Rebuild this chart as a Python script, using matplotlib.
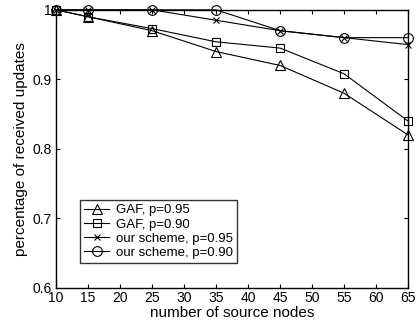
import matplotlib
matplotlib.use("Agg")
import matplotlib.pyplot as plt

plt.rcParams['font.family'] = ['Liberation Sans', 'DejaVu Sans']

# source node counts
nodes = [10, 15, 25, 35, 45, 55, 65]

# received-update ratios
gaf_95 = [1.0, 0.99, 0.970, 0.940, 0.920, 0.880, 0.820]
gaf_90 = [1.0, 0.99, 0.973, 0.954, 0.945, 0.908, 0.840]
ours_95 = [1.0, 1.0, 1.0, 0.985, 0.970, 0.960, 0.950]
ours_90 = [1.0, 1.0, 1.0, 1.0, 0.970, 0.960, 0.960]

labels = ['GAF, p=0.95', 'GAF, p=0.90', 'our scheme, p=0.95', 'our scheme, p=0.90']

fig = plt.figure(figsize=(4.19, 3.28), dpi=100)
ax = fig.add_axes([0.134, 0.122, 0.840, 0.848])

kw = dict(color='black', lw=0.8, mfc='none', mec='black', mew=0.8, clip_on=False, zorder=3)
ax.plot(nodes, gaf_95, marker='^', ms=7, label=labels[0], **kw)
ax.plot(nodes, gaf_90, marker='s', ms=5.5, label=labels[1], **kw)
ax.plot(nodes, ours_95, marker='x', ms=5, label=labels[2], **kw)
ax.plot(nodes, ours_90, marker='o', ms=7, label=labels[3], **kw)

ax.set_xlim(10, 65)
ax.set_ylim(0.6, 1.0)
ax.set_xticks(range(10, 70, 5))
ax.set_yticks([0.6, 0.7, 0.8, 0.9, 1.0])
ax.set_yticklabels(['0.6', '0.7', '0.8', '0.9', '1'])
ax.tick_params(direction='in', top=True, right=True, length=3, labelsize=10)
ax.tick_params(axis='x', pad=2)
ax.tick_params(axis='y', pad=3.5)
for s in ax.spines.values():
    s.set_linewidth(1.0)

ax.set_xlabel('number of source nodes', fontsize=11, labelpad=1)
ax.set_ylabel('percentage of received updates', fontsize=11, labelpad=3)

leg = ax.legend(loc='lower left', bbox_to_anchor=(0.068, 0.09), fontsize=9.5,
                frameon=True, fancybox=False, edgecolor='black', handlelength=1.9,
                borderpad=0.3, labelspacing=0.15, handletextpad=0.5, borderaxespad=0)
leg.get_frame().set_linewidth(1.0)

fig.savefig('out.png', dpi=100)
